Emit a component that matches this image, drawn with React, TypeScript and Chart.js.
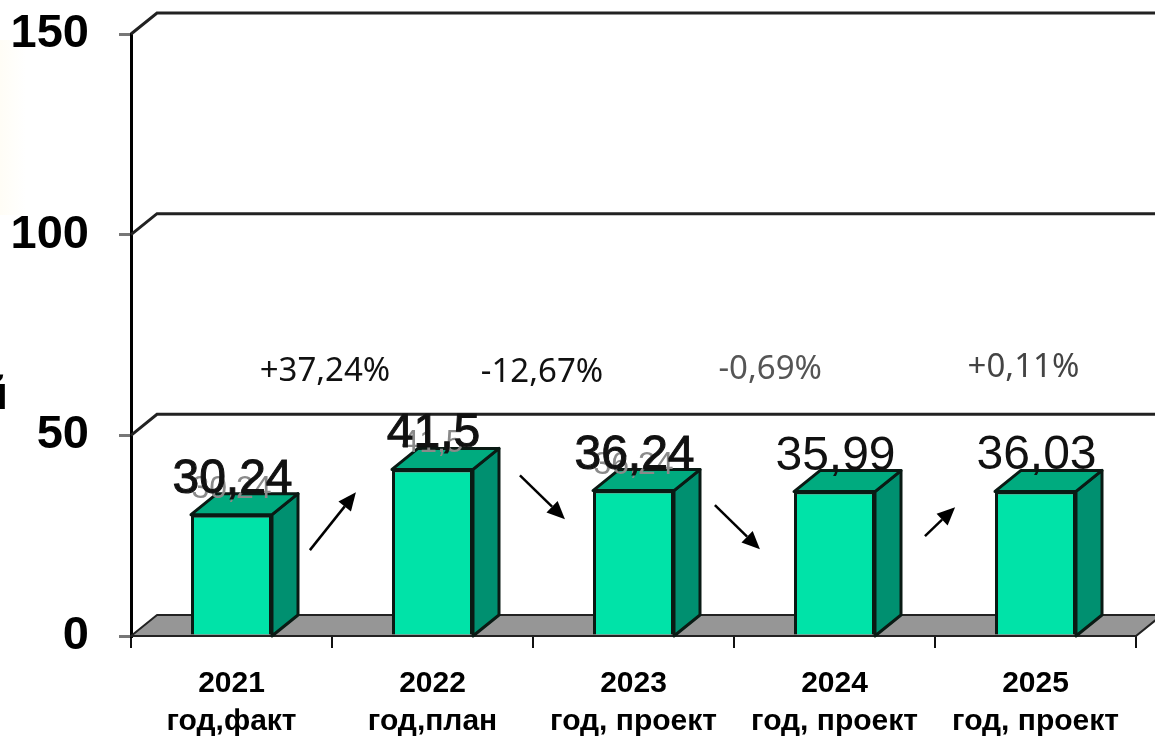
import React, { useEffect, useRef } from "react";
import { Chart, registerables } from "chart.js";

Chart.register(...registerables);

const categories = [
  ["2021", "год,факт"],
  ["2022", "год,план"],
  ["2023", "год, проект"],
  ["2024", "год, проект"],
  ["2025", "год, проект"],
];
const values = [30.24, 41.5, 36.24, 35.99, 36.03];
const ghostLabelFlags = [true, true, true, false, false];
const boldLabelFlags = [true, true, true, false, false];
const changeLabels = ["+37,24%", "-12,67%", "-0,69%", "+0,11%"];
const changeX = [0.465, 1.545, 2.68, 3.94];
const changeY = [66, 65.7, 66.4, 66.9];
const changeColors = ["#111111", "#111111", "#555555", "#444444"];
const arrowFromX = [0.39, 1.435, 2.405, 3.45];
const arrowFromY = [21.4, 40, 32.6, 24.9];
const arrowToX = [0.619, 1.659, 2.629, 3.6];
const arrowToY = [35.8, 29.1, 21.6, 32.1];
const yTicks = [0, 50, 100, 150];

const DEPTH_X = 26;
const DEPTH_Y = 21;
const SANS = '"Liberation Sans", Arial, sans-serif';
const fmt = (v: number) => String(v).replace(".", ",");

function poly(ctx: CanvasRenderingContext2D, pts: number[][], fill: string | null, stroke: string, lw: number) {
  ctx.beginPath();
  pts.forEach((p, i) => (i ? ctx.lineTo(p[0], p[1]) : ctx.moveTo(p[0], p[1])));
  ctx.closePath();
  if (fill) {
    ctx.fillStyle = fill;
    ctx.fill();
  }
  ctx.lineWidth = lw;
  ctx.strokeStyle = stroke;
  ctx.lineJoin = "round";
  ctx.stroke();
}

const box3d = {
  id: "box3d",
  beforeDraw(chart: any) {
    const { ctx } = chart;
    ctx.save();
    const g = ctx.createLinearGradient(0, 0, 26, 0);
    g.addColorStop(0, "#fffdf6");
    g.addColorStop(1, "#ffffff");
    ctx.fillStyle = g;
    ctx.fillRect(0, 40, 26, 175);
    ctx.fillStyle = "#000000";
    ctx.font = `bold 46px ${SANS}`;
    ctx.textAlign = "right";
    ctx.textBaseline = "alphabetic";
    ctx.fillText("й", 8, 409);
    ctx.restore();
  },
  beforeDatasetsDraw(chart: any) {
    const { ctx, scales } = chart;
    const xs = scales.x;
    const ys = scales.y;
    const left = xs.left;
    const right = xs.right;
    const y0 = ys.getPixelForValue(0);
    ctx.save();
    // back wall lines
    yTicks.slice(1).forEach((t) => {
      const y = ys.getPixelForValue(t);
      ctx.beginPath();
      ctx.moveTo(left, y);
      ctx.lineTo(left + DEPTH_X, y - DEPTH_Y);
      ctx.lineTo(right + DEPTH_X, y - DEPTH_Y);
      ctx.lineWidth = 3;
      ctx.strokeStyle = "#222222";
      ctx.stroke();
    });
    // floor
    poly(
      ctx,
      [
        [left, y0],
        [right, y0],
        [right + DEPTH_X, y0 - DEPTH_Y],
        [left + DEPTH_X, y0 - DEPTH_Y],
      ],
      "#969696",
      "#222222",
      2,
    );
    // bar side and top faces
    chart.getDatasetMeta(0).data.forEach((bar: any) => {
      const half = bar.width / 2;
      const l = bar.x - half;
      const r = bar.x + half;
      const t = bar.y;
      poly(
        ctx,
        [
          [r, t],
          [r + DEPTH_X, t - DEPTH_Y],
          [r + DEPTH_X, y0 - DEPTH_Y],
          [r, y0],
        ],
        "#009070",
        "#0a1a14",
        3,
      );
      poly(
        ctx,
        [
          [l, t],
          [l + DEPTH_X, t - DEPTH_Y],
          [r + DEPTH_X, t - DEPTH_Y],
          [r, t],
        ],
        "#00AB7F",
        "#0a1a14",
        3,
      );
    });
    ctx.restore();
  },
  afterDatasetsDraw(chart: any) {
    const { ctx, scales } = chart;
    const xs = scales.x;
    const ys = scales.y;
    const band = xs.width / categories.length;
    const px = (v: number) => xs.left + (v + 0.5) * band;
    ctx.save();
    // value labels
    ctx.textAlign = "center";
    ctx.textBaseline = "alphabetic";
    chart.getDatasetMeta(0).data.forEach((bar: any, i: number) => {
      const text = fmt(values[i]);
      if (ghostLabelFlags[i]) {
        ctx.font = `32px ${SANS}`;
        ctx.fillStyle = "#8a8a8a";
        ctx.fillText(text, bar.x, bar.y - 17);
      }
      ctx.font = `48px ${SANS}`;
      ctx.fillStyle = "#111111";
      ctx.fillText(text, bar.x + 1, bar.y - 22);
      if (boldLabelFlags[i]) {
        ctx.lineWidth = 1;
        ctx.strokeStyle = "#111111";
        ctx.strokeText(text, bar.x + 1, bar.y - 22);
      }
    });
    // change labels
    ctx.font = `33px "Noto Sans", sans-serif`;
    ctx.textBaseline = "middle";
    changeLabels.forEach((label, i) => {
      ctx.fillStyle = changeColors[i];
      ctx.fillText(label, px(changeX[i]), ys.getPixelForValue(changeY[i]));
    });
    // arrows
    arrowFromX.forEach((_, i) => {
      const x1 = px(arrowFromX[i]);
      const y1 = ys.getPixelForValue(arrowFromY[i]);
      const x2 = px(arrowToX[i]);
      const y2 = ys.getPixelForValue(arrowToY[i]);
      const a = Math.atan2(y2 - y1, x2 - x1);
      const len = 18;
      const wid = 8;
      const bx = x2 - len * Math.cos(a);
      const by = y2 - len * Math.sin(a);
      ctx.beginPath();
      ctx.moveTo(x1, y1);
      ctx.lineTo(bx, by);
      ctx.lineWidth = 2.5;
      ctx.strokeStyle = "#000000";
      ctx.stroke();
      ctx.beginPath();
      ctx.moveTo(x2, y2);
      ctx.lineTo(bx - wid * Math.sin(a), by + wid * Math.cos(a));
      ctx.lineTo(bx + wid * Math.sin(a), by - wid * Math.cos(a));
      ctx.closePath();
      ctx.fillStyle = "#000000";
      ctx.fill();
    });
    ctx.restore();
  },
};

export default function App() {
  const ref = useRef<HTMLCanvasElement>(null);
  useEffect(() => {
    const chart = new Chart(ref.current!, {
      type: "bar",
      data: {
        labels: categories,
        datasets: [
          {
            data: values,
            backgroundColor: "#00E3A8",
            borderColor: "#0a1a14",
            borderWidth: 3,
            barPercentage: 0.403,
            categoryPercentage: 1,
          },
        ],
      },
      options: {
        responsive: false,
        animation: false,
        layout: { padding: { top: 34, right: 19, left: 0, bottom: 0 } },
        plugins: { legend: { display: false }, tooltip: { enabled: false }, title: { display: false } },
        scales: {
          x: {
            afterFit(scale: any) {
              scale.height = 102;
            },
            border: { color: "#111111", width: 2 },
            grid: { drawOnChartArea: false, drawTicks: true, tickLength: 12, color: "#111111", lineWidth: 2 },
            ticks: {
              color: "#000000",
              padding: 17,
              maxRotation: 0,
              autoSkip: false,
              font: { family: SANS, size: 30, weight: "bold", lineHeight: 1.27 },
            },
          },
          y: {
            min: 0,
            max: 150,
            afterFit(scale: any) {
              scale.width = 131;
              scale.paddingTop = 0;
              scale.paddingBottom = 0;
            },
            afterBuildTicks(scale: any) {
              scale.ticks = yTicks.map((value) => ({ value }));
            },
            border: { color: "#000000", width: 3 },
            grid: { drawOnChartArea: false, drawTicks: true, tickLength: 12, color: "#777777", lineWidth: 3 },
            ticks: {
              color: "#000000",
              padding: 30,
              font: { family: SANS, size: 47, weight: "bold" },
            },
          },
        },
      },
      plugins: [box3d],
    } as any);
    return () => chart.destroy();
  }, []);
  return (
    <div style={{ position: "fixed", left: 0, top: 0, width: 1155, height: 738, background: "#ffffff", overflow: "hidden" }}>
      <canvas ref={ref} width={1155} height={738} style={{ display: "block" }} />
    </div>
  );
}
